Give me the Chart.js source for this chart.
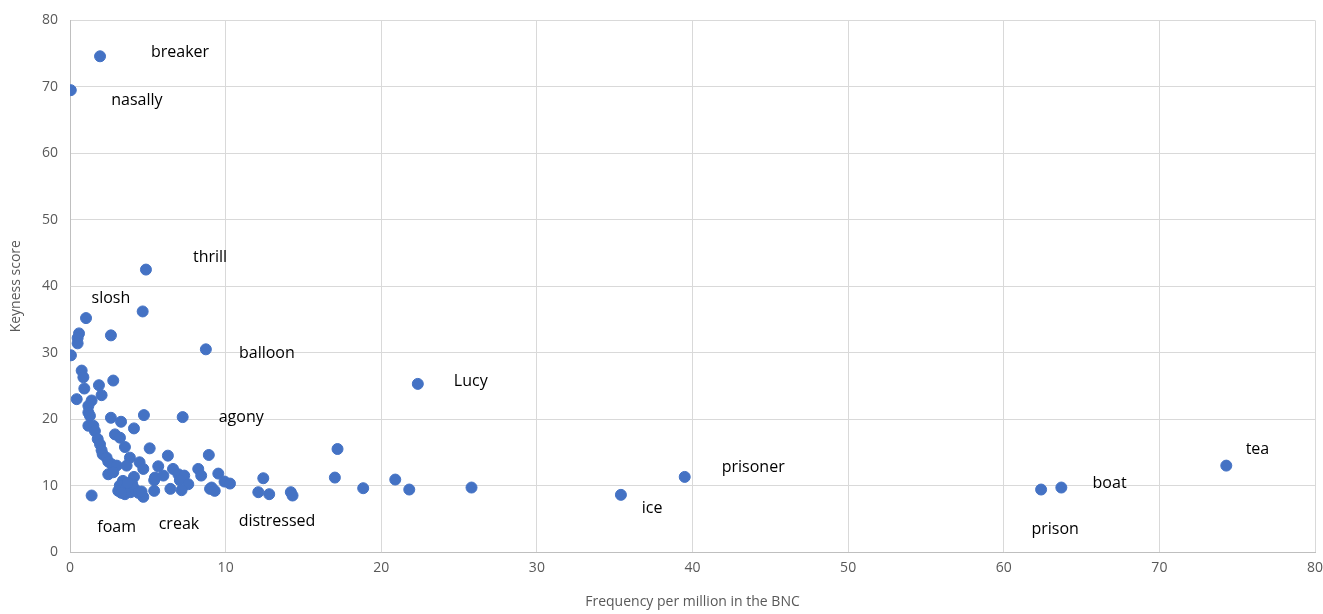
<!DOCTYPE html>
<html>
<head>
<meta charset="utf-8">
<script src="https://cdn.jsdelivr.net/npm/chart.js@4/dist/chart.umd.min.js"></script>
<style>
  html, body { margin: 0; padding: 0; background: #fff; }
  #wrap { width: 1323px; height: 614px; }
</style>
</head>
<body>
<div id="wrap"><canvas id="chart" width="1323" height="614"></canvas></div>
<script>
// frequency per million (x) and keyness score (y)
const freq = [1.93, 0.05, 4.88, 4.67, 1.03, 2.63, 0.58, 0.49, 0.49, 8.73, 0.06, 0.75, 0.86, 2.78, 1.86, 0.92,
  2.03, 0.43, 1.39, 1.18, 1.18, 1.28, 2.63, 3.28, 4.75, 7.24, 1.18, 1.5, 1.6, 4.11, 2.89, 3.21, 1.78, 1.93,
  2.03, 3.53, 5.12, 2.1, 6.29, 2.35, 8.92, 2.46, 3.85, 2.68, 3.0, 3.64, 4.47, 4.71, 5.67, 6.62, 8.24, 9.53,
  2.46, 2.78, 4.11, 5.46, 6.0, 6.96, 7.34, 8.43, 5.41, 7.06, 7.6, 9.1, 9.93, 10.28, 3.4, 1.39, 3.1, 3.53,
  4.71, 5.41, 6.45, 7.17, 9.0, 9.3, 3.2, 3.6, 3.9, 4.2, 4.0, 4.4, 3.3, 4.6, 3.7,
  12.42, 17.02, 17.19, 18.84, 12.1, 12.8, 14.19, 14.3, 20.9, 21.8, 22.35, 25.8, 35.4, 39.5, 62.4, 63.7, 74.3];
const keyness = [74.6, 69.5, 42.5, 36.2, 35.2, 32.6, 32.9, 32.2, 31.4, 30.5, 29.6, 27.3, 26.3, 25.8, 25.1, 24.6,
  23.6, 23.0, 22.8, 22.0, 21.0, 20.5, 20.2, 19.6, 20.6, 20.3, 19.0, 19.0, 18.2, 18.6, 17.7, 17.2, 17.0, 16.2,
  15.3, 15.8, 15.6, 14.7, 14.5, 14.2, 14.6, 13.6, 14.2, 13.2, 13.0, 13.0, 13.5, 12.5, 12.9, 12.5, 12.5, 11.8,
  11.7, 12.0, 11.3, 11.2, 11.5, 11.7, 11.5, 11.5, 10.8, 10.8, 10.2, 9.7, 10.6, 10.3, 10.7, 8.5, 9.2, 8.7,
  8.3, 9.2, 9.5, 9.3, 9.5, 9.2, 10.0, 9.6, 9.0, 9.4, 10.2, 8.9, 8.9, 9.1, 10.4,
  11.1, 11.2, 15.5, 9.6, 9.0, 8.7, 9.0, 8.5, 10.9, 9.4, 25.3, 9.7, 8.6, 11.3, 9.4, 9.7, 13.0];

// word labels, placed where the reference shows them
const words = ["breaker", "nasally", "thrill", "slosh", "balloon", "Lucy", "agony", "prisoner", "tea", "boat", "prison", "ice", "distressed", "creak", "foam"];
const wordX = [7.07, 4.3, 9.0, 2.63, 12.65, 25.75, 11.0, 43.9, 76.3, 66.8, 63.3, 37.4, 13.3, 7.0, 3.0];
const wordY = [75.2, 68.0, 44.3, 38.2, 29.9, 25.6, 20.2, 12.8, 15.4, 10.3, 3.4, 6.5, 4.6, 4.1, 3.7];

const points = freq.map((f, i) => ({ x: f, y: keyness[i] }));

const wordLabels = {
  id: "wordLabels",
  afterDatasetsDraw(chart) {
    const ctx = chart.ctx;
    const xs = chart.scales.x, ys = chart.scales.y;
    ctx.save();
    ctx.font = "16px 'Open Sans', sans-serif";
    ctx.fillStyle = "#000";
    ctx.textAlign = "center";
    ctx.textBaseline = "middle";
    words.forEach((w, i) => {
      ctx.fillText(w, xs.getPixelForValue(wordX[i]), ys.getPixelForValue(wordY[i]));
    });
    ctx.restore();
  }
};

new Chart(document.getElementById("chart"), {
  type: "scatter",
  data: {
    datasets: [{
      data: points,
      backgroundColor: "#4472C4",
      borderColor: "#4472C4",
      pointRadius: 5.5,
      pointHoverRadius: 5.5
    }]
  },
  options: {
    responsive: false,
    animation: false,
    layout: { padding: { top: 18, right: 0, left: 0, bottom: 0 } },
    plugins: { legend: { display: false }, tooltip: { enabled: false } },
    scales: {
      x: {
        min: 0, max: 80,
        ticks: { stepSize: 10, color: "#595959", font: { size: 14, family: "'Open Sans', sans-serif" }, padding: 8 },
        grid: { color: "#d9d9d9", drawTicks: false },
        border: { color: "#bfbfbf" },
        title: { display: true, text: "Frequency per million in the BNC", color: "#595959",
          font: { size: 14, family: "'Open Sans', sans-serif" }, padding: { top: 12 } },
        afterFit(scale) { scale.height = 62; scale.paddingRight = 8; }
      },
      y: {
        min: 0, max: 80,
        ticks: { stepSize: 10, color: "#595959", font: { size: 14, family: "'Open Sans', sans-serif" }, padding: 12 },
        grid: { color: "#d9d9d9", drawTicks: false },
        border: { color: "#bfbfbf" },
        title: { display: true, text: "Keyness score", color: "#595959",
          font: { size: 14, family: "'Open Sans', sans-serif" }, padding: { top: 8, bottom: 4 } },
        afterFit(scale) { scale.width = 70; }
      }
    }
  },
  plugins: [wordLabels]
});
</script>
</body>
</html>
